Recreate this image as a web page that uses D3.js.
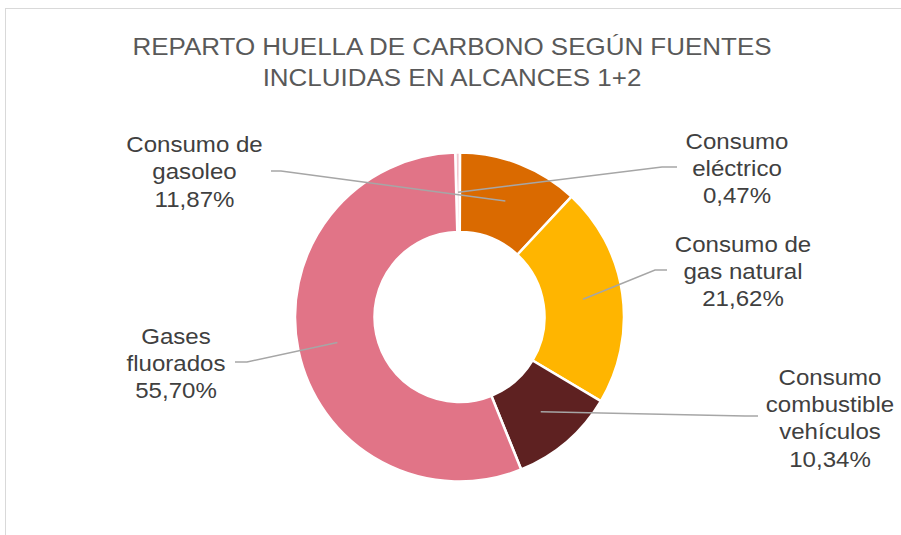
<!DOCTYPE html>
<html>
<head>
<meta charset="utf-8">
<script src="https://cdn.jsdelivr.net/npm/d3@7"></script>
<style>
  body { margin: 0; background: #fff; }
  svg { display: block; font-family: "Liberation Sans", Arial, sans-serif; }
</style>
</head>
<body>
<svg id="chart" width="901" height="535"></svg>
<script>
// data (order = clockwise from 12 o'clock)
const categories = ["Consumo eléctrico", "Consumo de gasoleo", "Consumo de gas natural", "Consumo combustible vehículos", "Gases fluorados"];
const values = [0.47, 11.87, 21.62, 10.34, 55.70];
const labelLines = [
  ["Consumo", "eléctrico"],
  ["Consumo de", "gasoleo"],
  ["Consumo de", "gas natural"],
  ["Consumo", "combustible", "vehículos"],
  ["Gases", "fluorados"]
];
const colors = ["#F2C6CE", "#DA6A00", "#FFB500", "#5E2121", "#E17487"];
const titleLines = ["REPARTO HUELLA DE CARBONO SEGÚN FUENTES", "INCLUIDAS EN ALCANCES 1+2"];

// layout
const cx = 459.5, cy = 317;
const rOuter = 164.5, rInner = 85;
const rot = -1.5 * Math.PI / 180;
const sx = 1.12;          // text in the picture is a bit wider than Arial
const lineH = 27.2;

// label block centre x, first baseline y, and the elbow of each leader line
const labelPos = [
  { x: 737, y: 148.5, elbow: [[662, 167], [677, 167]] },
  { x: 194.5, y: 152.3, elbow: [[281, 171], [271, 171]] },
  { x: 743, y: 252, elbow: [[655, 270], [667, 270]] },
  { x: 830, y: 385, elbow: [[745, 416], [758, 416]] },
  { x: 176, y: 344, elbow: [[247, 362], [235, 362]] }
];

const svg = d3.select("#chart");

svg.append("rect")
  .attr("x", 5.5).attr("y", 8.5)
  .attr("width", 1000).attr("height", 600)
  .attr("fill", "none")
  .attr("stroke", "#D9D9D9");

svg.append("text")
  .attr("transform", "translate(452,55) scale(1.06,1)")
  .attr("text-anchor", "middle")
  .attr("font-size", 24.5)
  .attr("fill", "#595959")
  .selectAll("tspan")
  .data(titleLines)
  .enter()
  .append("tspan")
  .attr("x", 0)
  .attr("dy", (d, i) => (i ? 31.5 : 0))
  .text(d => d);

const pie = d3.pie().sort(null).value(d => d)
  .startAngle(rot).endAngle(rot + 2 * Math.PI);
const arcs = pie(values);
const arc = d3.arc().innerRadius(rInner).outerRadius(rOuter);

const g = svg.append("g").attr("transform", `translate(${cx},${cy})`);

g.selectAll("path")
  .data(arcs)
  .enter()
  .append("path")
  .attr("d", arc)
  .attr("fill", (d, i) => colors[i])
  .attr("stroke", "#fff")
  .attr("stroke-width", 2.5);

// leader lines
svg.selectAll(".leader")
  .data(arcs)
  .enter()
  .append("polyline")
  .attr("class", "leader")
  .attr("fill", "none")
  .attr("stroke", "#A6A6A6")
  .attr("stroke-width", 1.5)
  .attr("points", (d, i) => {
    const c = arc.centroid(d);
    const pts = [[cx + c[0], cy + c[1]], ...labelPos[i].elbow];
    return pts.map(p => p.join(",")).join(" ");
  });

const fmt = v => v.toFixed(2).replace(".", ",") + "%";

const labels = svg.selectAll(".lbl")
  .data(arcs)
  .enter()
  .append("text")
  .attr("class", "lbl")
  .attr("transform", (d, i) => `translate(${labelPos[i].x},${labelPos[i].y}) scale(${sx},1)`)
  .attr("text-anchor", "middle")
  .attr("font-size", 21.5)
  .attr("fill", "#404040");

labels.each(function (d, i) {
  const lines = labelLines[i].concat([fmt(values[i])]);
  d3.select(this)
    .selectAll("tspan")
    .data(lines)
    .enter()
    .append("tspan")
    .attr("x", 0)
    .attr("dy", (t, j) => (j ? lineH : 0))
    .text(t => t);
});
</script>
</body>
</html>
